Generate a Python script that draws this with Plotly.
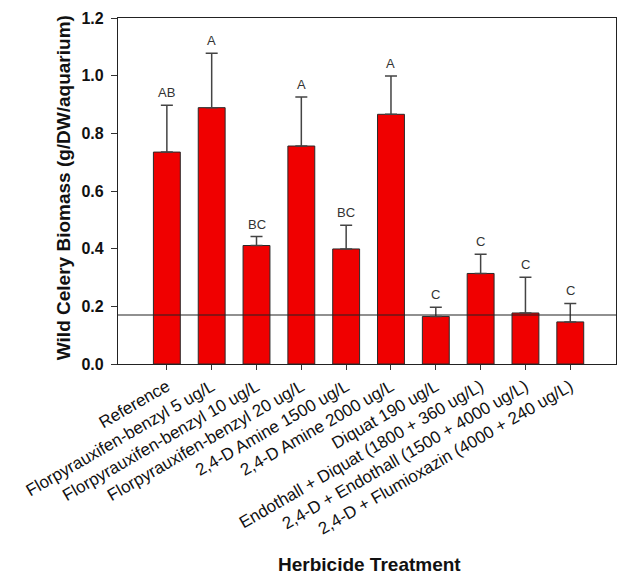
import plotly.graph_objects as go

# Treatment groups and measured wild celery biomass
treatments = [
    "Reference",
    "Florpyrauxifen-benzyl 5 ug/L",
    "Florpyrauxifen-benzyl 10 ug/L",
    "Florpyrauxifen-benzyl 20 ug/L",
    "2,4-D Amine 1500 ug/L",
    "2,4-D Amine 2000 ug/L",
    "Diquat 190 ug/L",
    "Endothall + Diquat (1800 + 360 ug/L)",
    "2,4-D + Endothall (1500 + 4000 ug/L)",
    "2,4-D + Flumioxazin (4000 + 240 ug/L)",
]
biomass = [0.735, 0.889, 0.411, 0.756, 0.399, 0.866, 0.165, 0.314, 0.177, 0.146]
std_err = [0.162, 0.189, 0.031, 0.170, 0.082, 0.133, 0.032, 0.067, 0.124, 0.064]
letters = ["AB", "A", "BC", "A", "BC", "A", "C", "C", "C", "C"]
pretreatment_level = 0.17

FONT = "Liberation Sans, Arial, sans-serif"
x_pos = list(range(len(treatments)))

fig = go.Figure()
fig.add_trace(go.Bar(
    x=x_pos,
    y=biomass,
    width=0.6,
    marker=dict(color="#f00000", line=dict(color="#2a2a2a", width=1)),
    error_y=dict(type="data", array=std_err, arrayminus=[0] * len(std_err),
                 symmetric=False, color="#444444", thickness=1.5, width=6),
    showlegend=False,
))

# Significance letters above each error bar
for xi, v, e, lab in zip(x_pos, biomass, std_err, letters):
    fig.add_annotation(x=xi, y=v + e, text=lab, showarrow=False,
                       yanchor="bottom", yshift=3,
                       font=dict(family=FONT, size=13, color="#333333"))

# Reference level line across the plot
fig.add_shape(type="line", xref="paper", x0=0, x1=1, yref="y",
              y0=pretreatment_level, y1=pretreatment_level,
              line=dict(color="#222222", width=1.2))

# Axis titles
fig.add_annotation(xref="paper", yref="paper", x=(63 - 118) / 499,
                   y=(364 - 184) / 354,
                   xanchor="center", yanchor="middle",
                   text="<b>Wild Celery Biomass (g/DW/aquarium)</b>",
                   textangle=-90, showarrow=False,
                   font=dict(family=FONT, size=19, color="#111111"))
fig.add_annotation(xref="paper", yref="paper", x=(370 - 118) / 499,
                   y=-(569 - 364) / 354, xanchor="center", yanchor="middle",
                   text="<b>Herbicide Treatment</b>", showarrow=False,
                   font=dict(family=FONT, size=19, color="#111111"))

fig.update_layout(
    width=627, height=582,
    margin=dict(l=118, r=10, t=10, b=218),
    paper_bgcolor="white", plot_bgcolor="white",
    font=dict(family=FONT, color="#111111"),
    bargap=0.4,
)
fig.update_xaxes(
    range=[-1.09, 10.02],
    tickmode="array", tickvals=x_pos, ticktext=treatments,
    tickangle=-30, tickfont=dict(family=FONT, size=17, color="#111111"),
    ticks="outside", ticklen=5, tickcolor="#333333",
    showline=True, linecolor="#222222", linewidth=1.3, mirror=True,
    showgrid=False, zeroline=False,
)
fig.update_yaxes(
    range=[0, 1.2], tickmode="array",
    tickvals=[0, 0.2, 0.4, 0.6, 0.8, 1.0, 1.2],
    ticktext=["0.0", "0.2", "0.4", "0.6", "0.8", "1.0", "1.2"],
    tickfont=dict(family=FONT, size=16, color="#111111", weight="bold"),
    ticks="outside", ticklen=6, tickcolor="#333333", ticklabelstandoff=4,
    showline=True, linecolor="#222222", linewidth=1.3, mirror=True,
    showgrid=False, zeroline=False,
)

fig.write_html("out.html")
